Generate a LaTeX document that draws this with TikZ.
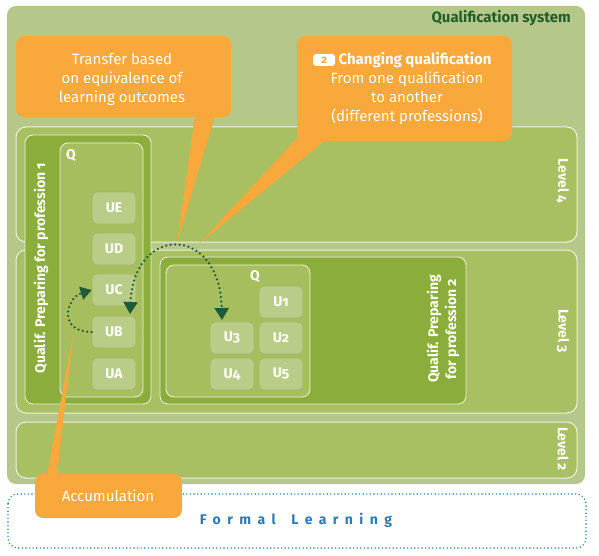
\documentclass[tikz,border=0pt]{standalone}
\usepackage{fontspec}
\setmainfont{Fira Sans}[Numbers=OldStyle]
\usetikzlibrary{arrows.meta,positioning}
\definecolor{outerc}{HTML}{B5C88A}
\definecolor{levelc}{HTML}{A8BF62}
\definecolor{profc}{HTML}{8AAD3B}
\definecolor{qc}{HTML}{A6BE5E}
\definecolor{unitc}{HTML}{B9CD88}
\definecolor{unitedge}{HTML}{A0B768}
\definecolor{linec}{HTML}{EEF3DC}
\definecolor{orangec}{HTML}{F9A83C}
\definecolor{titlec}{HTML}{215E2C}
\definecolor{arrowc}{HTML}{1D5B3A}
\definecolor{bluec}{HTML}{2C7CB4}
\begin{document}
\begin{tikzpicture}[x=1pt,y=-1pt,
  lvl/.style={draw=linec, line width=1pt, fill=levelc, rounded corners=10pt},
  profbox/.style={draw=linec, line width=0.8pt, fill=profc, rounded corners=8pt},
  qbox/.style={draw=linec, line width=0.8pt, fill=qc, rounded corners=8pt},
  unit/.style={draw=unitedge, line width=0.6pt, fill=unitc, rounded corners=5pt,
    minimum width=44pt, minimum height=32pt, inner sep=0pt, text=white,
    font=\bfseries\fontsize{14}{16}\selectfont},
  callout/.style={fill=orangec, rounded corners=8pt},
  ctext/.style={text=white, align=center, inner sep=0pt, font=\fontsize{15}{19}\selectfont},
  lbl/.style={text=white, align=center, inner sep=0pt, font=\bfseries\fontsize{14}{18}\selectfont},
  dotarrow/.style={draw=arrowc, line width=2.5pt, line cap=round, dash pattern=on 0pt off 4.5pt,
    {Triangle[width=14pt,length=12pt,fill=arrowc]}-{Triangle[width=14pt,length=12pt,fill=arrowc]}},
  onearrow/.style={draw=arrowc, line width=2.5pt, line cap=round, dash pattern=on 0pt off 4.5pt,
    -{Triangle[width=13pt,length=11pt,fill=arrowc]}}
]
\useasboundingbox (0,0) rectangle (599,556);
\fill[white] (0,0) rectangle (599,556);

% outer system
\fill[outerc, rounded corners=9pt] (7,6) rectangle (585,484);
\node[anchor=east, text=titlec, inner sep=0pt, font=\bfseries\fontsize{15}{17}\selectfont] (qs) at (571,18) {Qualification system};

% levels
\path[lvl] (16,127) rectangle (577,242);
\path[lvl] (16,250) rectangle (577,413);
\path[lvl] (16,422) rectangle (577,478);
\node[lbl, rotate=-90] (lv4) at (563,181) {Level 4};
\node[lbl, rotate=-90] (lv3) at (563,331) {Level 3};
\node[lbl, rotate=-90] (lv2) at (563,449) {Level 2};

% profession 1
\path[profbox] (25,135) rectangle (151,404);
\path[qbox] (60,143) rectangle (143,397);
\node[lbl, rotate=90] (p1) at (41,268) {Qualif. Preparing for profession 1};
\node[lbl] (q1) at (71,156) {Q};
\node[unit] (UE) at (114,208) {UE};
\node[unit] (UD) at (114,249) {UD};
\node[unit] (UC) at (114,290) {UC};
\node[unit] (UB) at (114,332) {UB};
\node[unit] (UA) at (114,374) {UA};

% profession 2
\path[profbox] (160,257) rectangle (466,404);
\path[qbox] (166,265) rectangle (310,397);
\node[lbl, rotate=90] (p2) at (443,329) {Qualif. Preparing\\for profession 2};
\node[lbl] (q2) at (255,277) {Q};
\node[unit] (U1) at (281,302) {U1};
\node[unit] (U3) at (232,338) {U3};
\node[unit] (U2) at (281,338) {U2};
\node[unit] (U4) at (232,374) {U4};
\node[unit] (U5) at (281,374) {U5};

% formal learning
\draw[bluec, line width=1.6pt, line cap=round, dash pattern=on 0pt off 3.6pt, rounded corners=10pt] (8,494) rectangle (586,548);
\node[text=bluec, inner sep=0pt, font=\bfseries\fontsize{14}{16}\selectfont] (fl) at (296,520) {\addfontfeature{LetterSpace=46}Formal\hspace{6pt} Learning};

% callout 1
\fill[orangec] (195,116) -- (215,116) -- (177,243) -- cycle;
\path[callout] (16,36) rectangle (231,117);
\node[ctext] (c1) at (122,79) {Transfer based\\on equivalence of\\learning outcomes};

% callout 2
\fill[orangec] (296,139) -- (327,139) -- (200,243) -- cycle;
\path[callout] (297,36) rectangle (512,141);
\node[text=white, inner sep=0pt, font=\bfseries\fontsize{15}{17}\selectfont] (c2t) at (415,60) {Changing qualification};
\node[fill=white, rounded corners=3pt, text=orangec, inner sep=0pt, minimum width=22pt, minimum height=12pt,
  font=\bfseries\fontsize{11}{11}\selectfont, left=3pt of c2t] (badge) {2};
\node[ctext] (c2) at (407,98) {From one qualification\\to another\\(different professions)};

% callout 3
\fill[orangec] (47,475) -- (57,475) -- (73,335) -- cycle;
\path[callout] (35,474) rectangle (182,518);
\node[ctext] (c3) at (108,496) {Accumulation};

% arrows
\coordinate (t1) at (130,314);
\coordinate (t2) at (222,320);
\draw[dotarrow] (t1) .. controls (134,224) and (220,224) .. (t2);
\draw[onearrow] (UB.west) .. controls +(-34,0) and +(-26,8) .. (UC.west);
\end{tikzpicture}
\end{document}
